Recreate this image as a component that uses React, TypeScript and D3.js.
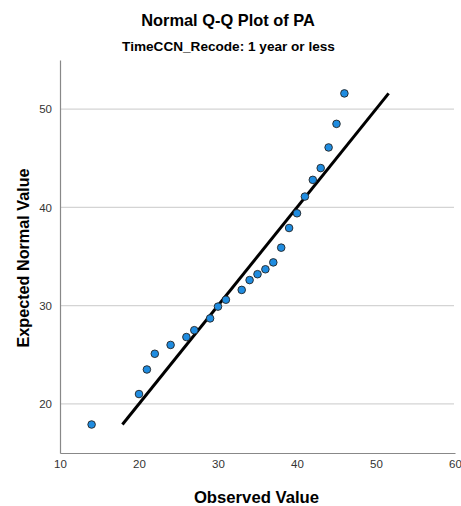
import React, { useEffect, useRef } from "react";
import * as d3 from "d3";

const observed = [14, 20, 21, 22, 24, 26, 27, 29, 30, 31, 33, 34, 35, 36, 37, 38, 39, 40, 41, 42, 43, 44, 45, 46];
const expected = [17.9, 21.0, 23.5, 25.1, 26.0, 26.8, 27.5, 28.7, 29.9, 30.6, 31.6, 32.6, 33.2, 33.7, 34.4, 35.9, 37.9, 39.4, 41.1, 42.8, 44.0, 46.1, 48.5, 51.6];
const xTicks = [10, 20, 30, 40, 50, 60];
const yTicks = [20, 30, 40, 50];

export default function App() {
  const ref = useRef<SVGSVGElement>(null);

  useEffect(() => {
    const svg = d3.select(ref.current);
    svg.selectAll("*").remove();

    const font = "'Liberation Sans', Arial, sans-serif";

    const x = d3.scaleLinear().domain([10, 60]).range([60, 455]);
    const y = d3.scaleLinear().domain([15, 55]).range([453, 60]);

    // gridlines
    svg
      .append("g")
      .selectAll("line")
      .data(yTicks)
      .enter()
      .append("line")
      .attr("x1", 61)
      .attr("x2", 454)
      .attr("y1", (d) => y(d))
      .attr("y2", (d) => y(d))
      .attr("stroke", "#d4d4d4")
      .attr("stroke-width", 1.2);

    // axes
    const gx = svg
      .append("g")
      .attr("transform", `translate(0,${y(15)})`)
      .call(d3.axisBottom(x).tickValues(xTicks).tickSize(0).tickPadding(7));
    gx.select(".domain").attr("stroke", "#888").attr("stroke-width", 1.2);
    gx.selectAll("text").attr("font-family", font).attr("font-size", 11.5).attr("fill", "#333");

    const gy = svg
      .append("g")
      .attr("transform", `translate(${x(10)},0)`)
      .call(d3.axisLeft(y).tickValues(yTicks).tickSize(0).tickPadding(8));
    gy.select(".domain").attr("stroke", "#888").attr("stroke-width", 1.2);
    gy.selectAll("text").attr("font-family", font).attr("font-size", 11.5).attr("fill", "#333");

    // reference line
    const ext = d3.extent(expected) as [number, number];
    svg
      .append("line")
      .attr("x1", x(ext[0]))
      .attr("y1", y(ext[0]))
      .attr("x2", x(ext[1]))
      .attr("y2", y(ext[1]))
      .attr("stroke", "#000")
      .attr("stroke-width", 3);

    // points
    svg
      .append("g")
      .selectAll("circle")
      .data(observed)
      .enter()
      .append("circle")
      .attr("cx", (d) => x(d))
      .attr("cy", (d, i) => y(expected[i]))
      .attr("r", 3.8)
      .attr("fill", "#1f8ce0")
      .attr("stroke", "#222")
      .attr("stroke-width", 0.9);

    // titles
    svg
      .append("text")
      .attr("x", 228)
      .attr("y", 26)
      .attr("text-anchor", "middle")
      .attr("font-family", font)
      .attr("font-size", 16.4)
      .attr("font-weight", "bold")
      .text("Normal Q-Q Plot of PA");

    svg
      .append("text")
      .attr("x", 228.5)
      .attr("y", 51)
      .attr("text-anchor", "middle")
      .attr("font-family", font)
      .attr("font-size", 13.6)
      .attr("font-weight", "bold")
      .text("TimeCCN_Recode: 1 year or less");

    svg
      .append("text")
      .attr("x", 256.5)
      .attr("y", 503)
      .attr("text-anchor", "middle")
      .attr("font-family", font)
      .attr("font-size", 16.7)
      .attr("font-weight", "bold")
      .text("Observed Value");

    svg
      .append("text")
      .attr("transform", `translate(29,258) rotate(-90)`)
      .attr("text-anchor", "middle")
      .attr("font-family", font)
      .attr("font-size", 16.2)
      .attr("font-weight", "bold")
      .text("Expected Normal Value");
  }, []);

  return (
    <svg
      ref={ref}
      width={461}
      height={506}
      style={{ position: "absolute", left: 0, top: 0, background: "#fff" }}
    />
  );
}
